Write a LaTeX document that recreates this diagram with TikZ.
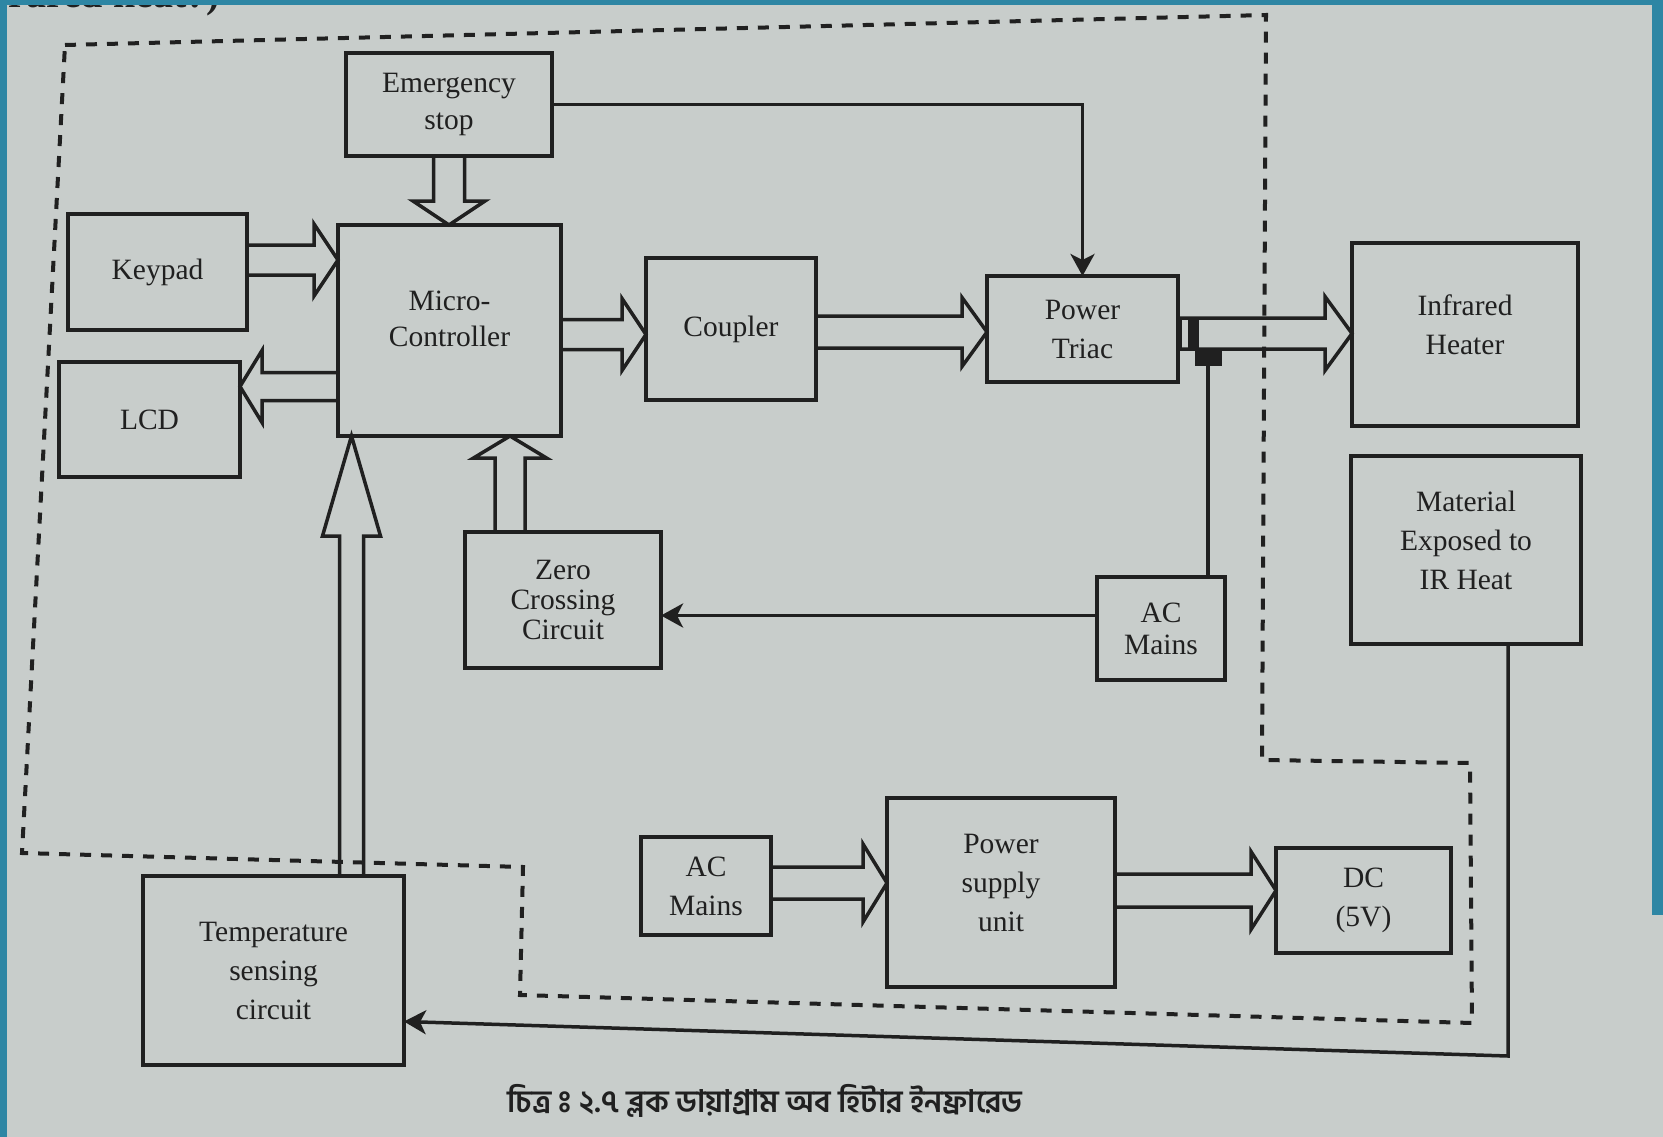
\documentclass[tikz,border=0pt]{standalone}
\usepackage{fontspec}
\setmainfont{Liberation Serif}
\newfontfamily\bnfont[Script=Bengali]{Hind Siliguri}
\usetikzlibrary{arrows.meta,calc}
\definecolor{paper}{RGB}{200,205,203}
\definecolor{frame}{RGB}{46,134,164}
\definecolor{ink}{RGB}{32,32,32}
\newcommand\fatarrow[5]{%
  \coordinate (faA) at #1;
  \coordinate (faB) at #2;
  \coordinate (faH) at ($(faB)!#5pt!(faA)$);
  \draw[fatline] ($(faA)!#3pt!90:(faB)$) -- ($(faH)!#3pt!90:(faB)$) -- ($(faH)!#4pt!90:(faB)$) -- (faB) -- ($(faH)!#4pt!-90:(faB)$) -- ($(faH)!#3pt!-90:(faB)$) -- ($(faA)!#3pt!-90:(faB)$);
}
\newcommand\visarga{\XeTeXglyph\XeTeXcharglyph"0983\relax}
\tikzset{
  box/.style={draw=ink, line width=4pt, inner sep=0pt, outer sep=0pt, align=center, text=ink,
    font=\fontsize{29.5}{39}\selectfont},
  fatline/.style={draw=ink, line width=3.5pt, line join=miter},
  conn/.style={draw=ink, line width=3.5pt, -{Stealth[length=22pt,width=24pt,inset=6pt]}},
  dashedbox/.style={draw=ink, line width=4pt, dash pattern=on 11pt off 10pt},
}
\begin{document}
\begin{tikzpicture}[x=1pt,y=-1pt]
\useasboundingbox (0,0) rectangle (1663,1137);
\fill[paper] (0,0) rectangle (1663,1137);
% cut heading fragment
\node[anchor=base west, inner sep=0pt, text=ink, font=\bfseries\fontsize{40}{40}\selectfont] (hdr) at (-43,8) {Infrared heat?)};
% dashed enclosure
\draw[dashedbox] (65,45) -- (1266,15) -- (1262,760) -- (1470,763) -- (1472,1023) -- (520,995) -- (523,867) -- (22,853) -- cycle;
% boxes
\node[box, minimum width=206pt, minimum height=103pt, font=\fontsize{29.5}{37}\selectfont] (es) at (449,104.5) {Emergency\\stop};
\node[box, minimum width=179pt, minimum height=116pt] (kp) at (157.5,272) {Keypad};
\node[box, minimum width=181pt, minimum height=115pt] (lcd) at (149.5,419.5) {LCD};
\node[box, minimum width=223pt, minimum height=211pt, font=\fontsize{29.5}{36}\selectfont] (mc) at (449.5,330.5) {Micro-\\Controller\\[-12pt]\mbox{}};
\node[box, minimum width=170pt, minimum height=142pt] (cp) at (731,329) {Coupler};
\node[box, minimum width=191pt, minimum height=106pt] (tr) at (1082.5,329) {Power\\Triac};
\node[box, minimum width=226pt, minimum height=183pt] (ir) at (1465,334.5) {Infrared\\Heater\\[-20pt]\mbox{}};
\node[box, minimum width=230pt, minimum height=188pt] (mat) at (1466,550) {Material\\Exposed to\\IR Heat\\[-20pt]\mbox{}};
\node[box, minimum width=196pt, minimum height=136pt, font=\fontsize{29.5}{30}\selectfont] (zc) at (563,600) {Zero\\Crossing\\Circuit};
\node[box, minimum width=128pt, minimum height=103pt, font=\fontsize{29.5}{32}\selectfont] (ac1) at (1161,628.5) {AC\\Mains};
\node[box, minimum width=261pt, minimum height=189pt] (temp) at (273.5,970.5) {Temperature\\sensing\\circuit};
\node[box, minimum width=130pt, minimum height=98pt] (ac2) at (706,886) {AC\\Mains};
\node[box, minimum width=228pt, minimum height=189pt] (psu) at (1001,892.5) {Power\\supply\\unit\\[-20pt]\mbox{}};
\node[box, minimum width=175pt, minimum height=105pt] (dc) at (1363.5,900.5) {DC\\(5V)};
% fat arrows
\fatarrow{(es.south)}{(es.south |- mc.north)}{15.5}{36}{24}
\fatarrow{($(kp.east)+(0,-12)$)}{(mc.west |- faA)}{15}{36}{24}
\fatarrow{($(mc.west)+(0,56)$)}{(lcd.east |- faA)}{14}{36}{22}
\fatarrow{($(mc.east)+(0,4)$)}{(cp.west |- faA)}{15}{36}{24}
\fatarrow{($(cp.east)+(0,3)$)}{(tr.west |- faA)}{16}{34.5}{25}
\fatarrow{($(tr.east)+(0,4.5)$)}{(ir.west |- faA)}{15.5}{37}{27}
\fatarrow{($(zc.north)+(-53,0)$)}{(mc.south -| faA)}{15}{36.5}{22}
\fatarrow{($(temp.north)+(78,0)$)}{(mc.south -| faA)}{12}{29}{100}
\fatarrow{($(ac2.east)+(0,-3)$)}{(psu.west |- faA)}{16}{39}{24}
\fatarrow{($(psu.east)+(0,-2)$)}{(dc.west |- faA)}{16.5}{39}{25}
% triac junction
\draw[ink, line width=2pt] ($(tr.east)+(3,-11)$) rectangle ($(tr.east)+(11,20)$);
\fill[ink] ($(tr.east)+(12,-11)$) rectangle ($(tr.east)+(21,20)$);
\fill[ink] ($(tr.east)+(17,20)$) rectangle ($(tr.east)+(44,37)$);
\coordinate (jn) at ($(tr.east)+(30,37)$);
\draw[ink, line width=3.5pt] (jn) -- (jn |- ac1.north);
% thin connectors
\draw[conn] (es.east) -| (tr.north);
\coordinate (acz) at ($(ac1.west)+(0,-13)$);
\draw[conn] (acz) -- (zc.east |- acz);
\coordinate (fbA) at ($(mat.south)+(42,0)$);
\coordinate (fbC) at ($(fbA)+(0,412)$);
\coordinate (fbT) at ($(temp.east)+(0,51)$);
\draw[conn, line join=miter] (fbA) -- (fbC) -- (fbT);
% caption
\node[anchor=base, inner sep=0pt, text=ink, font=\bnfont\bfseries\fontsize{31}{36}\selectfont] (cap) at (765,1112) {চিত্র \visarga{} ২.৭ ব্লক ডায়াগ্রাম অব হিটার ইনফ্রারেড};
% photo frame
\fill[frame] (0,0) rectangle (7,1137);
\fill[frame] (0,0) rectangle (1663,5);
\fill[frame] (1652,0) rectangle (1663,915);
\end{tikzpicture}
\end{document}
